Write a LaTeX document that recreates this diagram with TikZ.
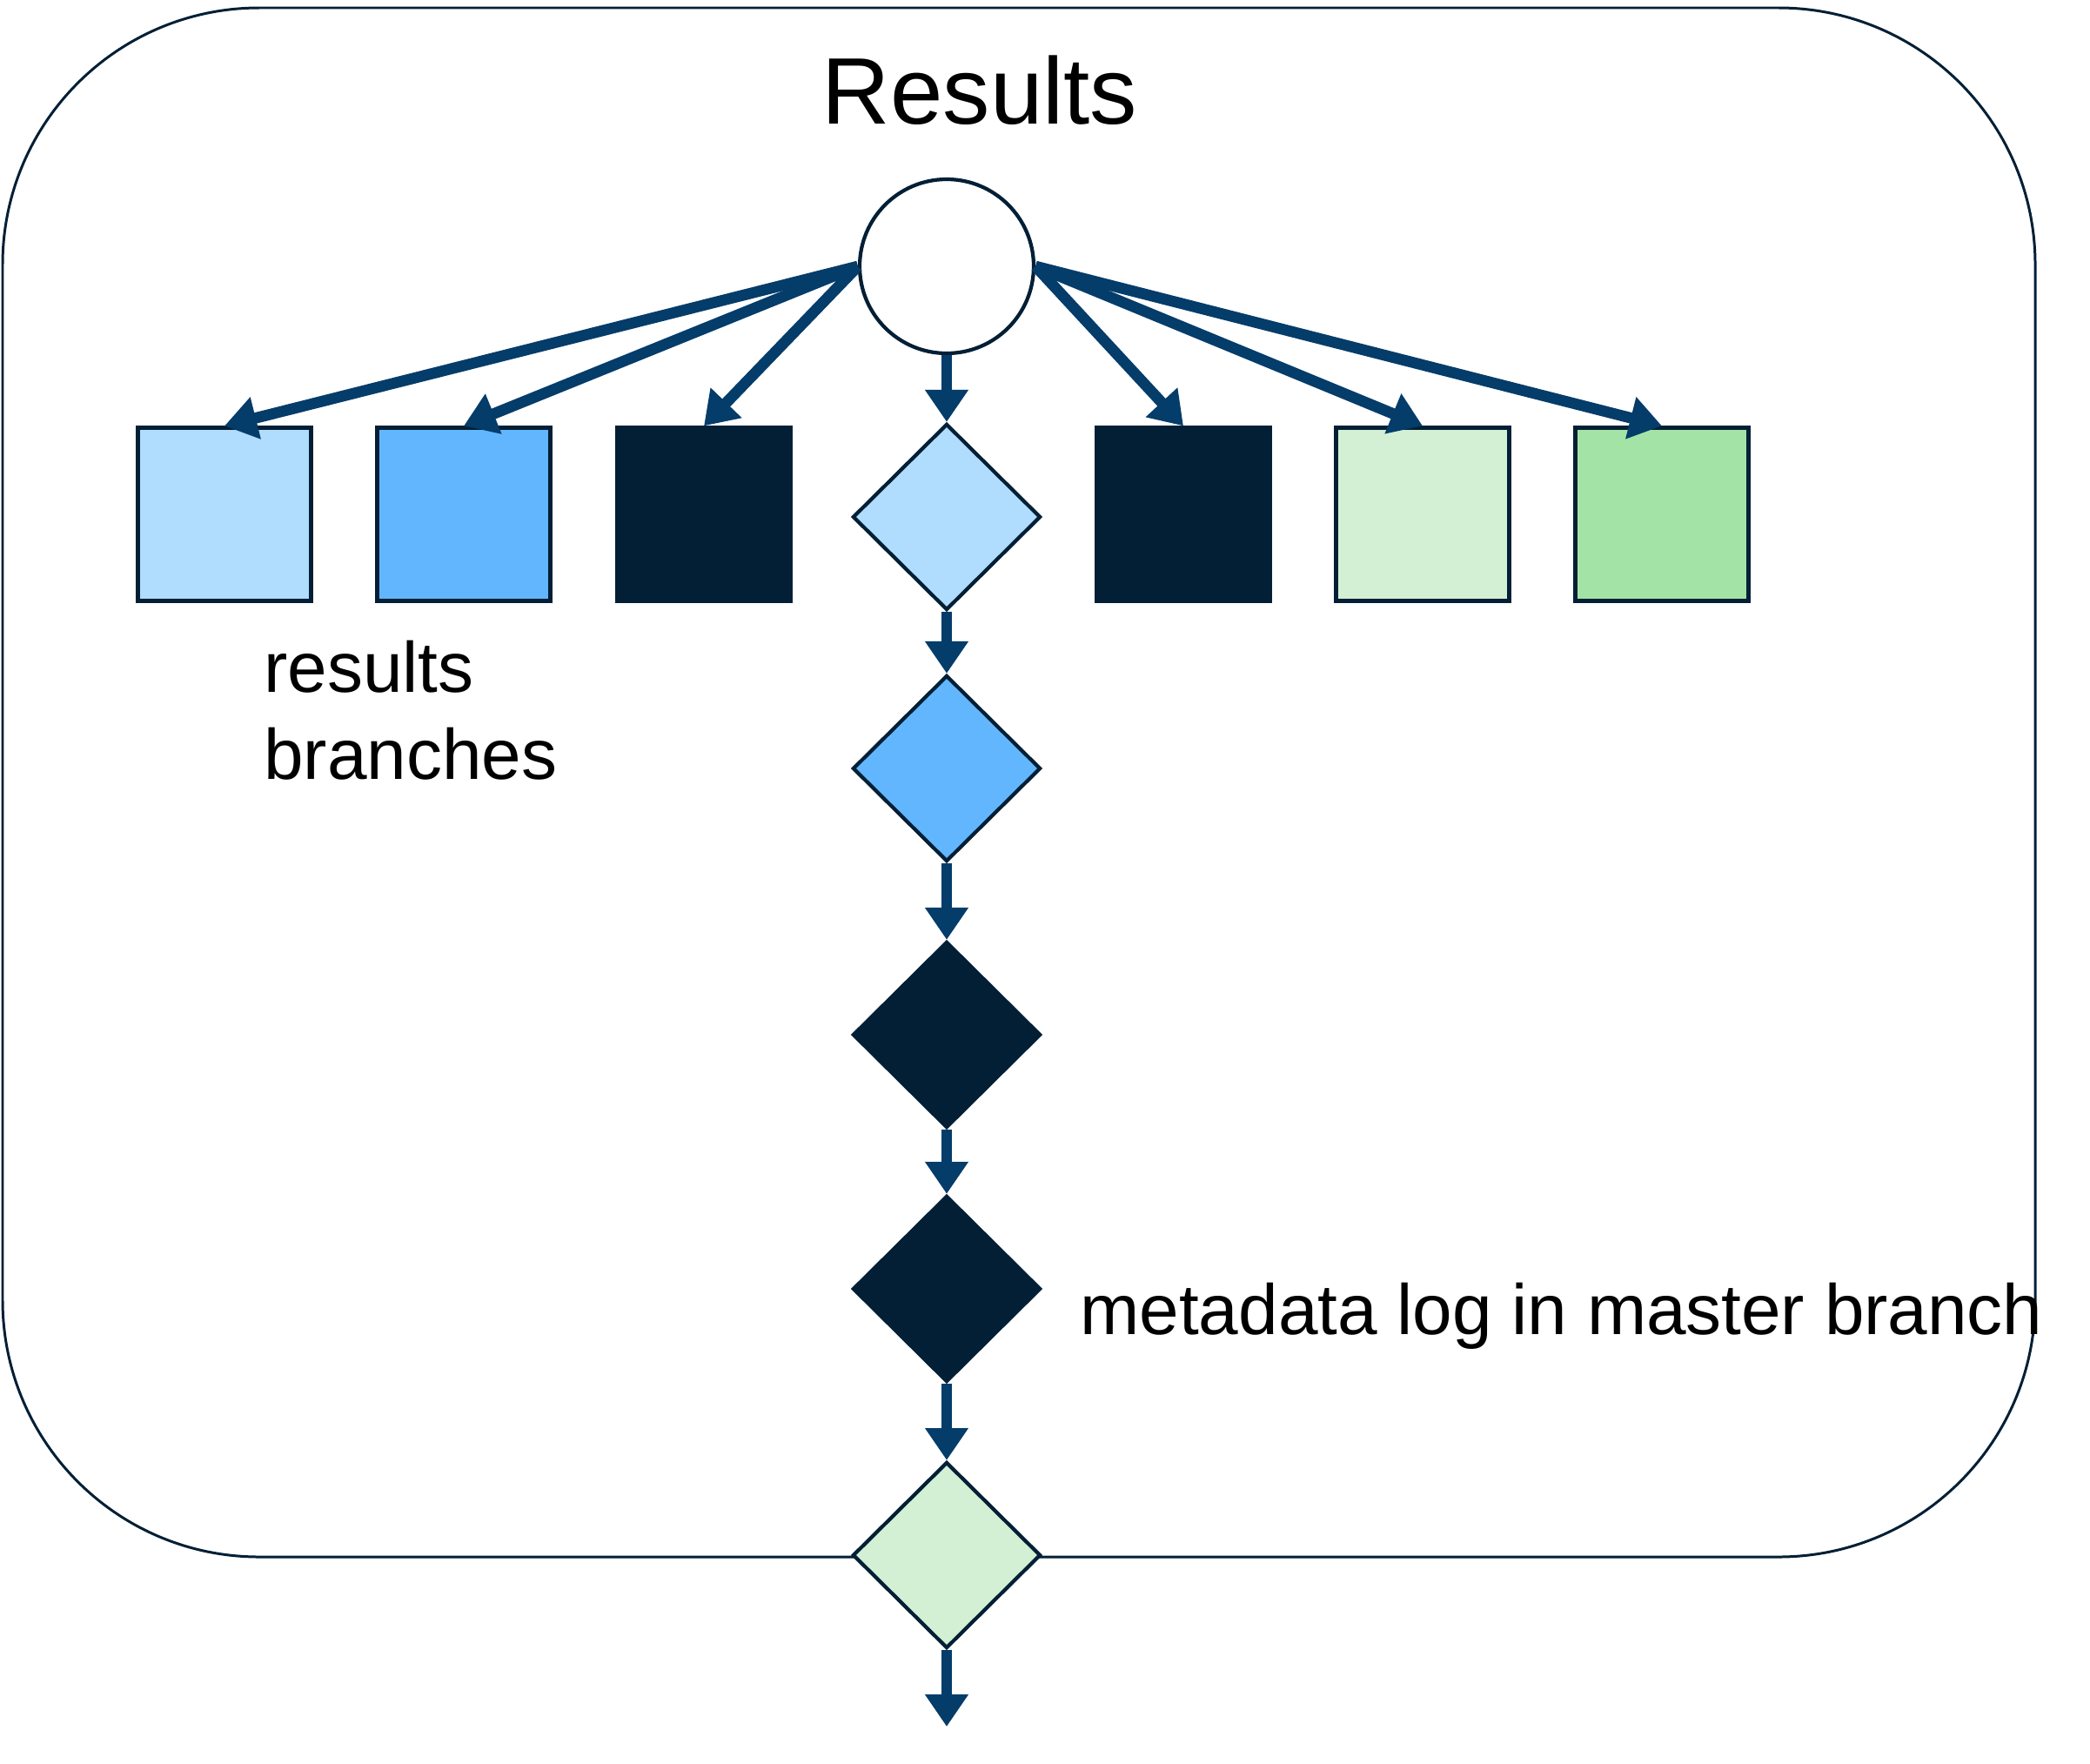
\documentclass[tikz,border=0pt]{standalone}
\usepackage{fontspec}
\setmainfont{Liberation Sans}
\usepackage{tikz}
\usetikzlibrary{arrows.meta,shapes.geometric}
\definecolor{resnavy}{HTML}{021F35}
\definecolor{resarrow}{HTML}{043C6A}
\definecolor{reslight}{HTML}{B0DCFD}
\definecolor{resblue}{HTML}{62B6FD}
\definecolor{resmint}{HTML}{D3F0D5}
\definecolor{resgreen}{HTML}{A3E4A6}

\begin{document}
\begin{tikzpicture}[>={Triangle[length=10.5pt,width=13.5pt]}, every node/.style={font=\fontsize{23.3}{28.4}\selectfont},
  branchbox/.style={draw=resnavy, line width=1.2pt, minimum size=1.99cm, inner sep=0pt},
  logstep/.style={draw=resnavy, diamond, line width=1.2pt, minimum width=2.16cm, minimum height=2.14cm, inner sep=0pt},
  flow/.style={->, line width=3.6pt, resarrow}]
  \useasboundingbox (0,0) rectangle (24.02,-20.26);
  \draw[resnavy, line width=0.85pt, rounded corners=2.95cm] (0.03,-0.09) rectangle (23.39,-17.89);
  \node (title) at (11.26,-1.04) {\fontsize{30.9}{36}\selectfont Results};

  \node[draw=resnavy, circle, line width=1.2pt, fill=white, minimum size=2cm, inner sep=0pt] (head) at (10.88,-3.06) {};

  \node[branchbox, fill=reslight] (rb1) at (2.58,-5.91) {};
  \node[branchbox, fill=resblue] (rb2) at (5.33,-5.91) {};
  \node[branchbox, fill=resnavy] (rb3) at (8.09,-5.91) {};
  \node[branchbox, fill=resnavy] (rb4) at (13.60,-5.91) {};
  \node[branchbox, fill=resmint] (rb5) at (16.35,-5.91) {};
  \node[branchbox, fill=resgreen] (rb6) at (19.10,-5.91) {};

  \node[logstep, fill=reslight] (log1) at (10.88,-5.94) {};
  \node[logstep, fill=resblue] (log2) at (10.88,-8.83) {};
  \node[logstep, fill=resnavy] (log3) at (10.88,-11.89) {};
  \node[logstep, fill=resnavy] (log4) at (10.88,-14.81) {};
  \node[logstep, fill=resmint] (log5) at (10.88,-17.87) {};
  \coordinate (tail) at (10.88,-19.84);

  \node[anchor=west, align=left] (rblabel) at (2.91,-8.16) {results\\branches};
  \node[anchor=west] (loglabel) at (12.29,-15.12) {metadata log in master branch};

  \draw[flow] (head.west) -- (rb1.north);
  \draw[flow] (head.west) -- (rb2.north);
  \draw[flow] (head.west) -- (rb3.north);
  \draw[flow] (head.east) -- (rb4.north);
  \draw[flow] (head.east) -- (rb5.north);
  \draw[flow] (head.east) -- (rb6.north);

  \draw[flow] (head) -- (log1);
  \draw[flow] (log1) -- (log2);
  \draw[flow] (log2) -- (log3);
  \draw[flow] (log3) -- (log4);
  \draw[flow] (log4) -- (log5);
  \draw[flow] (log5) -- (tail);
\end{tikzpicture}
\end{document}
